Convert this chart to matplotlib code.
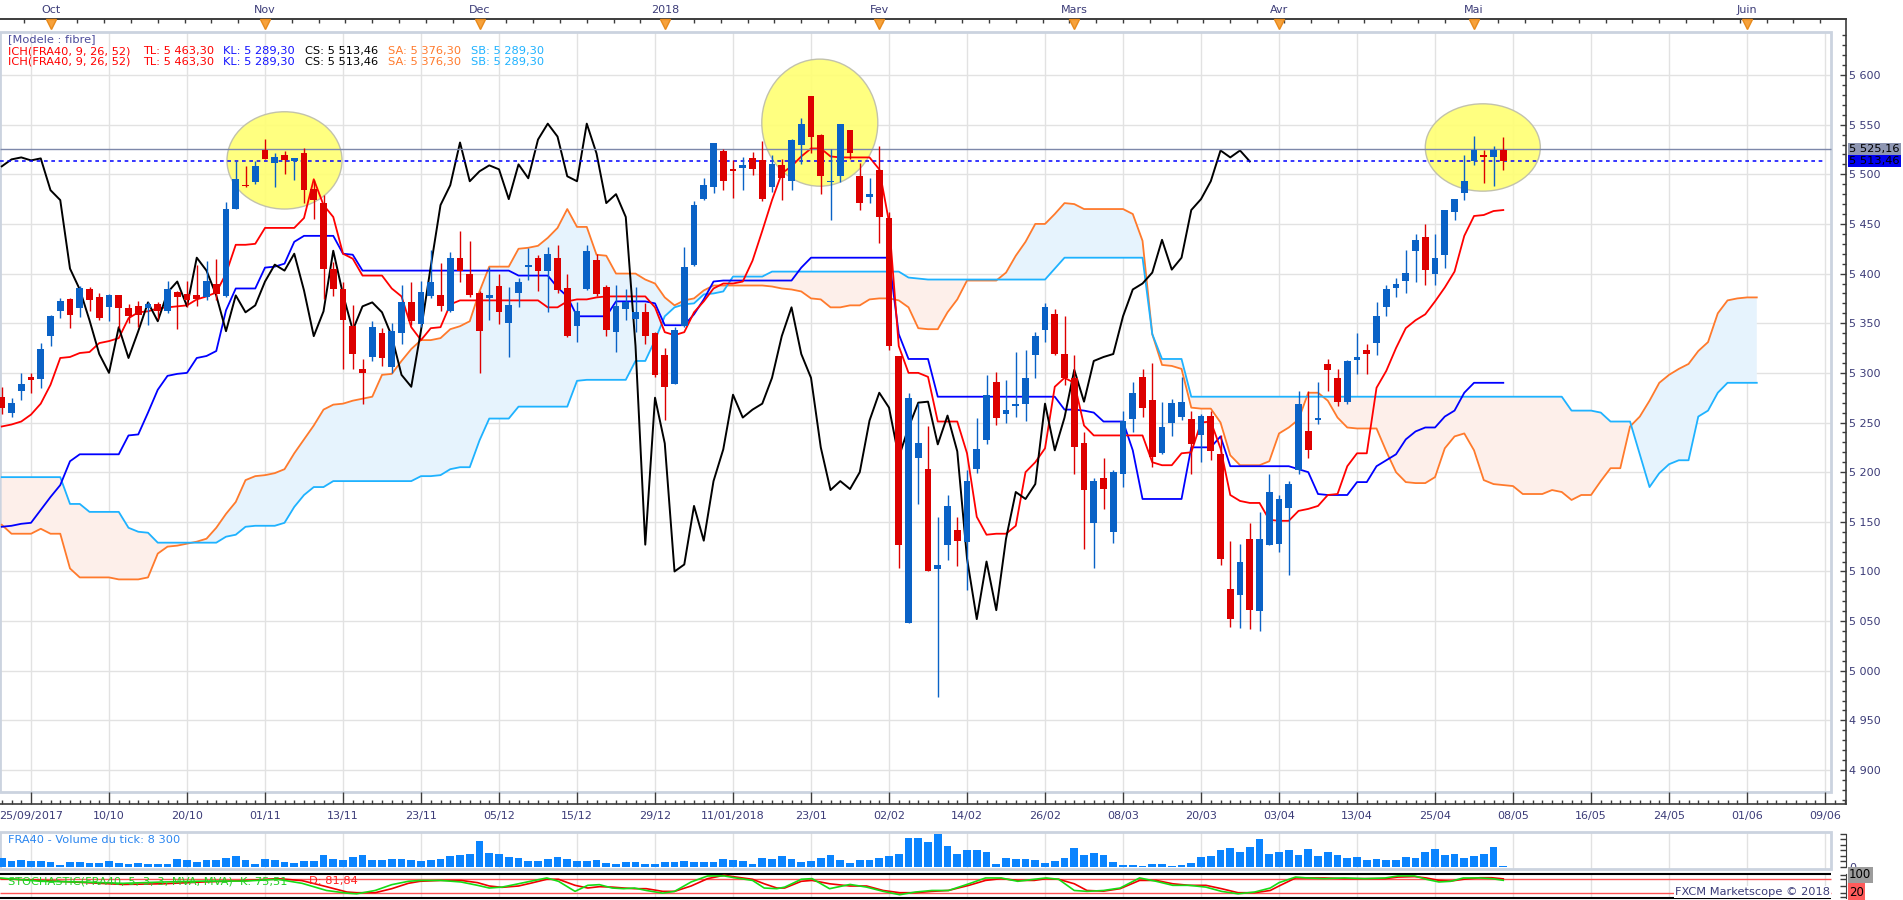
import numpy as np
import matplotlib
matplotlib.use("Agg")
import matplotlib.pyplot as plt
import matplotlib.transforms as mtransforms
from matplotlib.patches import Ellipse, Rectangle
from matplotlib.ticker import FixedLocator, FuncFormatter

# ---------------- data ----------------
# bar numbers: -3 .. 151 (one per trading day), cloud runs 26 bars further
first_bar = -3

opens = [
    5276, 5260, 5282, 5296, 5294, 5337, 5362, 5374, 5365, 5384,
    5376, 5366, 5378, 5365, 5367, 5365, 5369, 5362, 5381, 5379,
    5378, 5376, 5390, 5377, 5465, 5489, 5492, 5524, 5511, 5519,
    5513, 5521, 5485, 5471, 5405, 5384, 5347, 5304, 5316, 5340,
    5306, 5340, 5371, 5349, 5377, 5378, 5362, 5416, 5400, 5380,
    5375, 5387, 5350, 5380, 5407, 5416, 5403, 5416, 5385, 5347,
    5384, 5414, 5386, 5341, 5364, 5354, 5361, 5340, 5318, 5289,
    5347, 5409, 5475, 5487, 5523, 5505, 5506, 5516, 5514, 5487,
    5509, 5493, 5530, 5579, 5540, 5492, 5498, 5545, 5498, 5477,
    5504, 5456, 5317, 5048, 5214, 5203, 5102, 5127, 5142, 5130,
    5203, 5232, 5291, 5259, 5267, 5269, 5318, 5343, 5359, 5319,
    5295, 5229, 5149, 5194, 5140, 5198, 5254, 5296, 5273, 5219,
    5250, 5256, 5254, 5237, 5257, 5218, 5082, 5076, 5133, 5060,
    5127, 5128, 5164, 5202, 5241, 5253, 5309, 5295, 5271, 5313,
    5323, 5330, 5366, 5385, 5393, 5423, 5437, 5400, 5419, 5462,
    5481, 5513, 5519, 5517, 5524]

highs = [
    5286, 5275, 5300, 5300, 5330, 5358, 5375, 5375, 5387, 5386,
    5380, 5379, 5378, 5369, 5372, 5371, 5371, 5393, 5382, 5393,
    5409, 5413, 5415, 5472, 5513, 5508, 5513, 5536, 5521, 5523,
    5516, 5526, 5494, 5479, 5412, 5392, 5368, 5314, 5352, 5345,
    5350, 5389, 5392, 5393, 5424, 5411, 5422, 5443, 5433, 5382,
    5407, 5400, 5386, 5396, 5426, 5419, 5427, 5429, 5400, 5371,
    5429, 5420, 5389, 5388, 5384, 5386, 5370, 5341, 5325, 5346,
    5427, 5473, 5496, 5532, 5525, 5514, 5517, 5522, 5534, 5519,
    5515, 5536, 5557, 5579, 5541, 5525, 5551, 5545, 5511, 5496,
    5528, 5462, 5317, 5280, 5270, 5247, 5155, 5177, 5155, 5202,
    5255, 5298, 5301, 5293, 5321, 5323, 5341, 5370, 5364, 5357,
    5318, 5240, 5194, 5214, 5202, 5262, 5291, 5304, 5310, 5271,
    5274, 5296, 5262, 5259, 5262, 5237, 5131, 5128, 5149, 5160,
    5198, 5177, 5191, 5282, 5282, 5291, 5314, 5304, 5313, 5340,
    5329, 5371, 5389, 5396, 5424, 5440, 5450, 5440, 5464, 5475,
    5519, 5539, 5524, 5528, 5538]

lows = [
    5259, 5256, 5273, 5280, 5285, 5327, 5355, 5345, 5356, 5362,
    5353, 5352, 5345, 5350, 5346, 5348, 5354, 5360, 5344, 5366,
    5367, 5373, 5373, 5376, 5465, 5487, 5490, 5515, 5487, 5500,
    5494, 5471, 5455, 5374, 5377, 5304, 5304, 5269, 5312, 5307,
    5300, 5329, 5348, 5346, 5375, 5362, 5361, 5392, 5376, 5300,
    5353, 5349, 5316, 5366, 5394, 5382, 5361, 5380, 5336, 5331,
    5383, 5377, 5337, 5321, 5353, 5341, 5329, 5296, 5253, 5289,
    5346, 5408, 5474, 5481, 5484, 5476, 5484, 5499, 5473, 5482,
    5474, 5484, 5510, 5521, 5480, 5454, 5492, 5515, 5464, 5471,
    5431, 5323, 5103, 5048, 5168, 5100, 4974, 5112, 5106, 5081,
    5199, 5228, 5248, 5250, 5256, 5252, 5295, 5331, 5318, 5288,
    5198, 5123, 5103, 5163, 5129, 5185, 5240, 5256, 5205, 5218,
    5236, 5253, 5198, 5210, 5212, 5107, 5044, 5043, 5042, 5040,
    5127, 5120, 5096, 5198, 5214, 5249, 5282, 5267, 5269, 5299,
    5299, 5318, 5357, 5376, 5380, 5392, 5389, 5388, 5406, 5454,
    5474, 5509, 5491, 5488, 5504]

closes = [
    5265, 5270, 5289, 5293, 5324, 5357, 5372, 5358, 5385, 5373,
    5355, 5378, 5365, 5357, 5358, 5369, 5362, 5384, 5376, 5373,
    5374, 5393, 5379, 5465, 5495, 5488, 5508, 5515, 5517, 5514,
    5516, 5484, 5474, 5405, 5384, 5353, 5319, 5300, 5346, 5315,
    5342, 5371, 5352, 5381, 5392, 5367, 5416, 5403, 5378, 5342,
    5378, 5361, 5368, 5392, 5409, 5403, 5420, 5383, 5337, 5362,
    5423, 5379, 5343, 5367, 5371, 5361, 5337, 5298, 5286, 5343,
    5407, 5469, 5489, 5532, 5493, 5503, 5509, 5505, 5475, 5510,
    5496, 5535, 5551, 5538, 5498, 5493, 5551, 5521, 5471, 5480,
    5457, 5327, 5127, 5275, 5229, 5100, 5107, 5166, 5131, 5191,
    5223, 5278, 5255, 5263, 5269, 5295, 5337, 5366, 5319, 5295,
    5225, 5182, 5191, 5183, 5200, 5252, 5280, 5265, 5215, 5245,
    5270, 5271, 5228, 5257, 5221, 5113, 5052, 5110, 5061, 5133,
    5180, 5173, 5188, 5269, 5222, 5255, 5303, 5271, 5312, 5316,
    5319, 5357, 5384, 5390, 5401, 5434, 5404, 5416, 5464, 5475,
    5493, 5524, 5517, 5524, 5513]

tenkan = [
    5246, 5248, 5251, 5258, 5269, 5288, 5315, 5316, 5320, 5321,
    5330, 5332, 5335, 5355, 5361, 5362, 5365, 5366, 5367, 5368,
    5374, 5377, 5381, 5400, 5429, 5429, 5430, 5446, 5446, 5446,
    5446, 5456, 5495, 5469, 5457, 5420, 5415, 5398, 5398, 5398,
    5385, 5377, 5346, 5333, 5345, 5346, 5369, 5373, 5373, 5373,
    5373, 5373, 5373, 5373, 5373, 5373, 5366, 5366, 5372, 5374,
    5374, 5376, 5377, 5377, 5377, 5377, 5377, 5366, 5341, 5338,
    5341, 5361, 5372, 5385, 5390, 5390, 5392, 5413, 5443, 5474,
    5501, 5508, 5518, 5526, 5526, 5518, 5517, 5517, 5517, 5517,
    5505, 5452, 5327, 5300, 5300, 5296, 5251, 5251, 5251, 5219,
    5155, 5137, 5138, 5138, 5146, 5200, 5210, 5224, 5286, 5295,
    5290, 5247, 5237, 5237, 5237, 5237, 5237, 5237, 5210, 5207,
    5207, 5219, 5220, 5250, 5251, 5224, 5177, 5171, 5169, 5169,
    5152, 5151, 5151, 5161, 5163, 5166, 5177, 5178, 5206, 5219,
    5219, 5285, 5302, 5325, 5345, 5353, 5359, 5372, 5386, 5402,
    5438, 5458, 5459, 5463, 5464]

kijun = [
    5145, 5146, 5148, 5149, 5162, 5175, 5187, 5211, 5218, 5218,
    5218, 5218, 5218, 5237, 5238, 5260, 5283, 5297, 5299, 5300,
    5315, 5317, 5322, 5363, 5385, 5385, 5385, 5406, 5407, 5410,
    5432, 5438, 5438, 5438, 5438, 5420, 5419, 5403, 5403, 5403,
    5403, 5403, 5403, 5403, 5403, 5403, 5403, 5403, 5403, 5403,
    5403, 5403, 5403, 5398, 5398, 5398, 5398, 5386, 5377, 5357,
    5357, 5357, 5357, 5372, 5372, 5372, 5372, 5370, 5348, 5348,
    5348, 5359, 5374, 5392, 5393, 5393, 5393, 5393, 5393, 5393,
    5393, 5393, 5406, 5416, 5416, 5416, 5416, 5416, 5416, 5416,
    5416, 5416, 5339, 5314, 5314, 5314, 5276, 5276, 5276, 5276,
    5276, 5276, 5276, 5276, 5276, 5276, 5276, 5276, 5276, 5263,
    5263, 5262, 5260, 5251, 5251, 5251, 5222, 5173, 5173, 5173,
    5173, 5173, 5225, 5225, 5225, 5236, 5206, 5206, 5206, 5206,
    5206, 5206, 5206, 5203, 5200, 5178, 5177, 5177, 5177, 5190,
    5190, 5206, 5212, 5218, 5233, 5241, 5245, 5245, 5256, 5262,
    5280, 5290, 5290, 5290, 5290]

senkou_a = [
    5147, 5138, 5138, 5138, 5143, 5138, 5138, 5103, 5094, 5094,
    5094, 5094, 5092, 5092, 5092, 5094, 5118, 5125, 5126, 5128,
    5130, 5133, 5144, 5158, 5170, 5192, 5196, 5197, 5199, 5203,
    5219, 5233, 5247, 5263, 5268, 5269, 5272, 5274, 5276, 5298,
    5299, 5312, 5324, 5333, 5333, 5335, 5344, 5347, 5352, 5382,
    5407, 5407, 5407, 5425, 5426, 5428, 5436, 5446, 5465, 5447,
    5447, 5419, 5418, 5400, 5400, 5400, 5394, 5390, 5376, 5368,
    5373, 5375, 5383, 5388, 5388, 5388, 5388, 5388, 5388, 5387,
    5385, 5384, 5382, 5375, 5374, 5366, 5366, 5368, 5368, 5374,
    5375, 5375, 5373, 5366, 5345, 5344, 5344, 5361, 5374, 5393,
    5393, 5393, 5393, 5401, 5418, 5432, 5450, 5450, 5460, 5471,
    5470, 5465, 5465, 5465, 5465, 5465, 5460, 5433, 5339, 5308,
    5307, 5304, 5265, 5264, 5264, 5250, 5217, 5207, 5207, 5207,
    5211, 5239, 5245, 5253, 5280, 5280, 5272, 5255, 5245, 5244,
    5244, 5244, 5221, 5200, 5190, 5189, 5189, 5195, 5224, 5236,
    5239, 5222, 5192, 5188, 5187, 5186, 5178, 5178, 5178, 5182,
    5180, 5172, 5177, 5177, 5191, 5204, 5204, 5246, 5256, 5272,
    5290, 5298, 5304, 5309, 5322, 5331, 5360, 5373, 5375, 5376,
    5376]

senkou_b = [
    5195, 5195, 5195, 5195, 5195, 5195, 5195, 5168, 5168, 5160,
    5160, 5160, 5160, 5144, 5140, 5139, 5129, 5129, 5129, 5129,
    5129, 5129, 5129, 5135, 5137, 5145, 5146, 5146, 5146, 5149,
    5165, 5177, 5185, 5185, 5191, 5191, 5191, 5191, 5191, 5191,
    5191, 5191, 5191, 5196, 5196, 5197, 5203, 5205, 5205, 5232,
    5254, 5254, 5254, 5266, 5266, 5266, 5266, 5266, 5266, 5292,
    5293, 5293, 5293, 5293, 5293, 5312, 5312, 5333, 5357, 5366,
    5369, 5370, 5379, 5380, 5382, 5397, 5397, 5397, 5397, 5402,
    5402, 5402, 5402, 5402, 5402, 5402, 5402, 5402, 5402, 5402,
    5402, 5402, 5402, 5396, 5395, 5394, 5394, 5394, 5394, 5394,
    5394, 5394, 5394, 5394, 5394, 5394, 5394, 5394, 5405, 5416,
    5416, 5416, 5416, 5416, 5416, 5416, 5416, 5416, 5339, 5314,
    5314, 5314, 5276, 5276, 5276, 5276, 5276, 5276, 5276, 5276,
    5276, 5276, 5276, 5276, 5276, 5276, 5276, 5276, 5276, 5276,
    5276, 5276, 5276, 5276, 5276, 5276, 5276, 5276, 5276, 5276,
    5276, 5276, 5276, 5276, 5276, 5276, 5276, 5276, 5276, 5276,
    5276, 5262, 5262, 5262, 5260, 5251, 5251, 5251, 5218, 5185,
    5199, 5208, 5212, 5212, 5256, 5262, 5280, 5290, 5290, 5290,
    5290]

# tick volume, thousands
volume = [
    72, 47, 53, 47, 47, 36, 14, 36, 36, 30,
    30, 47, 30, 25, 30, 22, 22, 22, 64, 55,
    39, 55, 55, 75, 89, 55, 22, 64, 55, 36,
    30, 47, 47, 97, 64, 55, 83, 97, 55, 55,
    64, 64, 55, 47, 55, 64, 89, 97, 105, 213,
    114, 105, 80, 72, 47, 47, 64, 80, 64, 47,
    47, 55, 30, 22, 39, 39, 22, 22, 39, 39,
    47, 39, 39, 39, 64, 55, 47, 22, 72, 64,
    89, 64, 39, 47, 72, 97, 55, 30, 55, 55,
    72, 89, 105, 238, 238, 205, 272, 172, 105, 139,
    139, 122, 22, 72, 64, 64, 55, 30, 47, 72,
    155, 97, 114, 97, 39, 14, 14, 6, 22, 22,
    6, 14, 30, 80, 89, 139, 155, 122, 163, 230,
    105, 122, 139, 97, 147, 89, 122, 97, 72, 80,
    55, 64, 55, 55, 80, 72, 122, 147, 97, 105,
    72, 89, 105, 163, 8.3]

stoch_bar = [-3.2, 1.0, 5.2, 9.4, 13.6, 17.7, 21.9, 25.3, 27.8, 30.3,
             32.4, 33.4, 35.3, 37.0, 38.7, 39.9, 42.0, 44.1, 45.8, 47.0,
             48.3, 50.0, 51.2, 52.9, 54.1, 55.8, 57.1, 58.3, 59.6, 60.8,
             61.9, 63.1, 64.8, 66.0, 67.7, 69.4, 71.1, 72.3, 74.0, 75.2,
             76.5, 77.3, 79.0, 80.1, 81.9, 84.0, 85.7, 87.4, 89.1, 90.7,
             92.4, 94.1, 96.2, 97.9, 99.5, 101.2, 102.9, 104.1, 105.4, 107.0,
             108.3, 110.0, 111.7, 113.7, 115.4, 117.1, 118.8, 120.5, 122.1, 123.8,
             125.5, 127.1, 128.0, 129.7, 130.9, 132.6, 134.7, 136.8, 138.9, 140.2,
             141.9, 143.1, 144.4, 145.6, 146.9, 148.6, 149.8, 151.0]
stoch_k = [86, 71, 68, 62, 68, 72, 72, 80, 62, 30,
           18, 15, 30, 56, 71, 75, 75, 68, 53, 41,
           45, 60, 71, 86, 71, 26, 53, 56, 41, 38,
           41, 30, 18, 26, 68, 95, 95, 86, 75, 41,
           38, 45, 80, 83, 38, 57, 45, 26, 11, 23,
           30, 30, 60, 86, 86, 71, 80, 86, 80, 30,
           26, 30, 41, 86, 71, 53, 53, 45, 26, 15,
           23, 41, 65, 90, 86, 83, 86, 83, 86, 95,
           95, 80, 68, 71, 86, 86, 83, 75.5]
stoch_d = [83, 75, 66, 57, 60, 68, 74, 83, 74, 47,
           23, 20, 20, 38, 62, 71, 75, 75, 65, 50,
           44, 50, 62, 80, 80, 53, 41, 47, 45, 41,
           38, 38, 26, 26, 50, 83, 98, 90, 80, 60,
           41, 41, 71, 75, 60, 50, 50, 30, 20, 20,
           26, 30, 53, 75, 83, 75, 75, 83, 80, 60,
           30, 27, 38, 75, 75, 60, 53, 53, 38, 20,
           20, 30, 50, 86, 86, 86, 83, 83, 83, 90,
           92, 86, 75, 72, 80, 87, 87, 81.8]

date_labels = ["25/09/2017", "10/10", "20/10", "01/11", "13/11", "23/11",
               "05/12", "15/12", "29/12", "11/01/2018", "23/01", "02/02",
               "14/02", "26/02", "08/03", "20/03", "03/04", "13/04",
               "25/04", "08/05", "16/05", "24/05", "01/06", "09/06"]
month_bar = [2, 24, 46, 65, 87, 107, 128, 148, 176]
month_names = ["Oct", "Nov", "Dec", "2018", "Fev", "Mars", "Avr", "Mai", "Juin"]

# highlighted zones: centre bar, centre price, width (bars), height (points)
highlights = [(26.0, 5514, 11.8, 98), (80.9, 5552, 11.9, 128), (148.9, 5527, 11.8, 88)]

ref_level = 5525.16
last_close = 5513.46

# ---------------- figure ----------------
W, H = 1903, 900
fig = plt.figure(figsize=(W / 100, H / 100), dpi=100)
fig.patch.set_facecolor("white")

LABEL = "#3c3c78"
AXC = "#3c3c3c"
GRID = "#e2e2e2"
FRAMEC = "#cbd3df"
XMIN, XMAX = -3.18, 186.15
XFRAME = 184.6
PTOP, PBOT = 5643.3, 4877.8


def px_axes(x0, y0, x1, y1):
    return fig.add_axes([x0 / W, 1 - y1 / H, (x1 - x0) / W, (y1 - y0) / H])


def ftext(x, y, s, color, size=8.2, **kw):
    return fig.text(x / W, 1 - y / H, s, color=color, fontsize=size,
                    ha="left", va="center", **kw)


bars = np.arange(first_bar, first_bar + len(closes))
ext = np.arange(first_bar, first_bar + len(senkou_a))
o = np.array(opens, float)
c = np.array(closes, float)
hi = np.array(highs, float)
lo = np.array(lows, float)
sa = np.array(senkou_a, float)
sb = np.array(senkou_b, float)

# ---------------- main price panel ----------------
ax = px_axes(0, 19, 1846, 804)
ax.set_xlim(XMIN, XMAX)
ax.set_ylim(4865.8, 5656.4)
ax.set_facecolor("white")

ax.vlines(np.arange(0, 185, 8), PBOT, PTOP, color=GRID, lw=1, zorder=0.2)
ax.hlines(np.arange(4900, 5601, 50), XMIN, XFRAME, color=GRID, lw=1, zorder=0.2)
ax.add_patch(Rectangle((XMIN, PBOT), XFRAME - XMIN, PTOP - PBOT, fill=False,
                       ec=FRAMEC, lw=2, zorder=0.3))

ax.fill_between(ext, sa, sb, where=sa >= sb, interpolate=True,
                color="#e6f3fd", lw=0, zorder=1)
ax.fill_between(ext, sa, sb, where=sa < sb, interpolate=True,
                color="#fdefea", lw=0, zorder=1)

for cx, cy, w, h in highlights:
    ax.add_patch(Ellipse((cx, cy), w, h, fc="#ffff72", ec="#bcbcaa", lw=1,
                         alpha=0.9, zorder=1.5))

ax.plot(ext, sa, color="#ff7a2c", lw=1.3, zorder=2)
ax.plot(ext, sb, color="#1eb2ff", lw=1.3, zorder=2)
ax.plot(bars, kijun, color="#0000ff", lw=1.3, zorder=3)
ax.plot(bars, tenkan, color="#ff0000", lw=1.3, zorder=3)
ax.plot(bars[:len(c) - 26], c[26:], color="black", lw=1.4, zorder=3)

ax.hlines(ref_level, XMIN, XFRAME, color="#7d88aa", lw=1, zorder=3.5)
ax.hlines(last_close, XMIN, XFRAME - 0.5, color="#0000ff", lw=1.1,
          linestyles=(0, (2.4, 2.4)), zorder=3.5)

col = np.where(c >= o, "#0a62c6", "#dd0000")
ax.vlines(bars, lo, hi, colors=col, lw=1.0, zorder=4)
ax.bar(bars, np.maximum(np.abs(c - o), 1.3), bottom=np.minimum(o, c),
       width=0.68, color=col, lw=0, zorder=5)

for s in ("top", "right", "bottom"):
    ax.spines[s].set_color(AXC)
    ax.spines[s].set_linewidth(1.2)
ax.spines["left"].set_visible(False)

ax.set_xticks(np.arange(0, 185, 8), date_labels)
ax.xaxis.set_minor_locator(FixedLocator(np.arange(-3, 187)))
ax.tick_params(axis="x", which="major", direction="in", length=8.5, width=1,
               color=AXC, pad=5, labelsize=8, labelcolor=LABEL)
ax.tick_params(axis="x", which="minor", direction="in", length=3.2, width=1,
               color=AXC)

ax.yaxis.tick_right()
ax.set_yticks(np.arange(4900, 5601, 50))
ax.yaxis.set_major_formatter(FuncFormatter(
    lambda v, p: f"{int(v) // 1000} {int(v) % 1000:03d}"))
ax.yaxis.set_minor_locator(FixedLocator(np.arange(4870, 5645, 10)))
ax.tick_params(axis="y", which="major", direction="in", length=4, width=1,
               color=AXC, pad=2, labelsize=8, labelcolor=LABEL)
ax.tick_params(axis="y", which="minor", direction="in", length=2.6, width=1,
               color=AXC)

top = ax.secondary_xaxis("top")
top.set_xticks(month_bar, month_names)
top.xaxis.set_minor_locator(FixedLocator(np.arange(-0.75, 186, 2.75)))
top.tick_params(which="both", direction="in", length=3, width=1, color=AXC,
                pad=3, labelsize=8, labelcolor=LABEL)
top.spines["top"].set_color(AXC)
top.spines["top"].set_linewidth(1.2)

trans = mtransforms.blended_transform_factory(ax.transData, ax.transAxes)
ax.plot(month_bar, [0.9942] * len(month_bar), ls="none", marker="v", ms=6.5,
        mfc="#f7a23c", mec="#e8891a", transform=trans, clip_on=False, zorder=6)

ytrans = mtransforms.blended_transform_factory(ax.transAxes, ax.transData)
ax.text(1.0016, ref_level, "5 525,16", transform=ytrans, fontsize=8.2,
        color="black", ha="left", va="center", clip_on=False, zorder=7,
        bbox=dict(boxstyle="square,pad=0.12", fc="#8e96b2", ec="none"))
ax.text(1.0016, last_close, "5 513,46", transform=ytrans, fontsize=8.2,
        color="black", ha="left", va="center", clip_on=False, zorder=8,
        bbox=dict(boxstyle="square,pad=0.12", fc="#0000f0", ec="none"))

# legend lines
ftext(8, 39, "[Modele : fibre]", "#4b4b9b")
for yy in (51, 62):
    ftext(8, yy, "ICH(FRA40, 9, 26, 52)", "#ff0000")
    ftext(143, yy, "TL: 5 463,30", "#ff0000")
    ftext(223, yy, "KL: 5 289,30", "#1414ff")
    ftext(305, yy, "CS: 5 513,46", "black")
    ftext(388, yy, "SA: 5 376,30", "#ff7a2c")
    ftext(471, yy, "SB: 5 289,30", "#1eb2ff")

# ---------------- volume panel ----------------
axv = px_axes(0, 833.7, 1846, 866.7)
axv.set_xlim(XMIN, XMAX)
axv.set_ylim(0, 275)
axv.vlines(np.arange(0, 185, 8), -18, 292, color=GRID, lw=1, zorder=0.2,
           clip_on=False)
axv.add_patch(Rectangle((0, -0.07), 1831 / 1846, 1.13, transform=axv.transAxes,
                        fill=False, ec=FRAMEC, lw=2, clip_on=False, zorder=0.3))
axv.bar(bars, volume, width=0.78, color="#0a84ff", lw=0, zorder=2)
for s in ("top", "left", "bottom"):
    axv.spines[s].set_visible(False)
axv.spines["right"].set_color(AXC)
axv.set_xticks([])
axv.yaxis.tick_right()
vt = np.linspace(0, 275, 7)
axv.set_yticks(vt, ["0"] + [""] * (len(vt) - 1))
axv.tick_params(axis="y", direction="in", length=4, width=1, color=AXC, pad=2,
                labelsize=8, labelcolor=LABEL)
ftext(8, 840, "FRA40 - Volume du tick: 8 300", "#2b86f0")

# ---------------- stochastic panel ----------------
axs = px_axes(0, 874, 1846, 898)
axs.set_xlim(XMIN, XMAX)
axs.set_ylim(-3.7, 103.7)
axs.vlines(np.arange(0, 185, 8), -3.7, 103.7, color=GRID, lw=1, zorder=0.2)
axs.hlines([80, 20], XMIN, XFRAME, color="#ff5555", lw=1, zorder=1)
axs.hlines([103.7, -3.7], XMIN, XFRAME, color="black", lw=1.5, zorder=1,
           clip_on=False)
axs.plot(stoch_bar, stoch_d, color="#f00000", lw=1.2, zorder=2)
axs.plot(stoch_bar, stoch_k, color="#16dc16", lw=1.2, zorder=3)
for s in ("top", "left", "bottom"):
    axs.spines[s].set_visible(False)
axs.spines["right"].set_color(AXC)
axs.set_xticks([])
axs.yaxis.tick_right()
axs.set_yticks([0, 20, 50, 80, 100], [""] * 5)
axs.tick_params(axis="y", direction="in", length=4, width=1, color=AXC)

strans = mtransforms.blended_transform_factory(axs.transAxes, axs.transData)
for lvl, txt, fc, z in ((80, "80", "#ff5b5b", 5), (100, "100", "#9c9c9c", 6),
                        (20, "20", "#ff5b5b", 5)):
    axs.text(1.0016, lvl, txt, transform=strans, fontsize=8.5, color="black",
             ha="left", va="center", clip_on=False, zorder=z,
             bbox=dict(boxstyle="square,pad=0.12", fc=fc, ec="none"))

ftext(8, 881, "STOCHASTIC(FRA40, 5, 3, 3, MVA, MVA)  K: 75,51", "#22d022")
ftext(309, 881, "D: 81,84", "#ff2020")
ftext(1675, 892, "FXCM Marketscope \u00a9 2018", LABEL,
      bbox=dict(boxstyle="square,pad=0.1", fc="white", ec="none"))

fig.savefig("out.png", dpi=100, facecolor="white")
